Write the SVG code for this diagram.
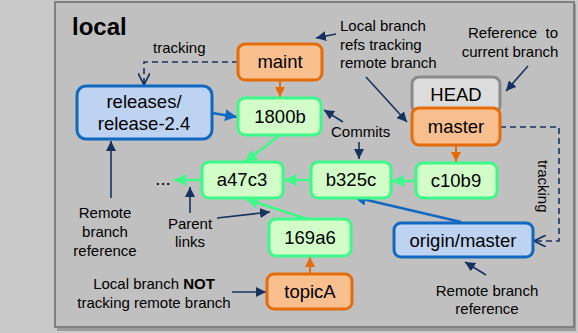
<svg xmlns="http://www.w3.org/2000/svg" width="578" height="333" viewBox="0 0 578 333">
<defs>
<style>
text{font-family:"Liberation Sans",Arial,sans-serif;fill:#000}
.n{font-size:18.5px;text-anchor:middle}
.a{font-size:15px}
.c{text-anchor:middle}
.green rect{fill:#d2fcc8;stroke:#3dfa88;stroke-width:3}
.orange rect{fill:#f9bf8f;stroke:#e46c0a;stroke-width:3}
.blue rect{fill:#bed3f1;stroke:#1068c0;stroke-width:3}
.gray rect{fill:#dcdcdc;stroke:#8a8a8a;stroke-width:3}
.lg{stroke:#3dfa88;stroke-width:2.5;fill:none;marker-end:url(#mg)}
.lo{stroke:#e46c0a;stroke-width:2;fill:none;marker-end:url(#mo)}
.lb{stroke:#1068c0;stroke-width:2.5;fill:none;marker-end:url(#mb)}
.ln{stroke:#17325e;stroke-width:1.6;fill:none;marker-end:url(#mn)}
.ld{stroke:#17325e;stroke-width:1.6;fill:none;stroke-dasharray:6 4;marker-end:url(#mv)}
</style>
<marker id="mg" markerUnits="userSpaceOnUse" markerWidth="12" markerHeight="12" refX="10" refY="5" orient="auto" viewBox="0 0 10 10"><path d="M0,0 L10,5 L0,10 Z" fill="#3dfa88"/></marker>
<marker id="mo" markerUnits="userSpaceOnUse" markerWidth="10" markerHeight="10" refX="10" refY="5" orient="auto" viewBox="0 0 10 10"><path d="M0,0 L10,5 L0,10 Z" fill="#e46c0a"/></marker>
<marker id="mb" markerUnits="userSpaceOnUse" markerWidth="12" markerHeight="12" refX="10" refY="5" orient="auto" viewBox="0 0 10 10"><path d="M0,0 L10,5 L0,10 Z" fill="#1068c0"/></marker>
<marker id="mn" markerUnits="userSpaceOnUse" markerWidth="10" markerHeight="10" refX="10" refY="5" orient="auto" viewBox="0 0 10 10"><path d="M0,0 L10,5 L0,10 Z" fill="#17325e"/></marker>
<marker id="mv" markerUnits="userSpaceOnUse" markerWidth="12" markerHeight="12" refX="10" refY="5" orient="auto" viewBox="0 0 10 10"><path d="M0,0 L10,5 L0,10" fill="none" stroke="#17325e" stroke-width="1.4"/></marker>
</defs>
<rect x="0" y="0" width="578" height="333" fill="#c9c9c9"/>
<rect x="57" y="4" width="519" height="327" fill="#9c9c9c"/>
<rect x="55" y="2" width="519" height="325" fill="#c0c0c0" stroke="#7f7f7f" stroke-width="2"/>
<text x="72" y="35" style="font-size:24px;font-weight:bold">local</text>

<g id="connectors">
<path class="ld" d="M238,62 H144 V85"/>
<path class="ld" d="M500,127 H559 V241 H534"/>
<line class="lo" x1="280" y1="80" x2="280" y2="97"/>
<line class="lo" x1="456" y1="145" x2="456" y2="162"/>
<line class="lo" x1="310" y1="274" x2="310" y2="257"/>
<line class="lb" x1="212" y1="113" x2="237" y2="117"/>
<line class="lb" x1="461" y1="222" x2="354" y2="197"/>
<line class="lg" x1="280" y1="135" x2="245" y2="162"/>
<line class="lg" x1="416" y1="181" x2="392" y2="181"/>
<line class="lg" x1="311" y1="180" x2="284" y2="180"/>
<line class="lg" x1="202" y1="180" x2="174" y2="180"/>
<line class="lg" x1="307" y1="219" x2="246" y2="199"/>
<line class="ln" x1="336" y1="34" x2="316" y2="38"/>
<line class="ln" x1="366" y1="77" x2="407" y2="122"/>
<line class="ln" x1="528" y1="66" x2="506" y2="91"/>
<line class="ln" x1="343" y1="122" x2="324" y2="110"/>
<line class="ln" x1="359" y1="142" x2="359" y2="159"/>
<line class="ln" x1="111" y1="198" x2="111" y2="141"/>
<line class="ln" x1="190" y1="213" x2="190" y2="187"/>
<line class="ln" x1="217" y1="218" x2="270" y2="212"/>
<line class="ln" x1="232" y1="292" x2="266" y2="292"/>
<line class="ln" x1="486" y1="275" x2="465" y2="262"/>
</g>

<g id="releases" class="blue"><rect x="77" y="86" width="135" height="53" rx="9"/><text class="n" x="144" y="108">releases/</text><text class="n" x="144" y="130">release-2.4</text></g>
<g id="maint" class="orange"><rect x="238" y="44" width="84" height="36" rx="7"/><text class="n" x="280" y="68">maint</text></g>
<g id="c1800b" class="green"><rect x="238" y="98" width="83" height="37" rx="7"/><text class="n" x="280" y="123">1800b</text></g>
<g id="a47c3" class="green"><rect x="202" y="162" width="81" height="36" rx="7"/><text class="n" x="242" y="186">a47c3</text></g>
<g id="b325c" class="green"><rect x="311" y="162" width="80" height="36" rx="7"/><text class="n" x="351" y="186">b325c</text></g>
<g id="c10b9" class="green"><rect x="416" y="163" width="81" height="35" rx="7"/><text class="n" x="456" y="187">c10b9</text></g>
<g id="c169a6" class="green"><rect x="269" y="219" width="82" height="37" rx="7"/><text class="n" x="310" y="244">169a6</text></g>
<g id="topicA" class="orange"><rect x="267" y="274" width="85" height="35" rx="7"/><text class="n" x="310" y="298">topicA</text></g>
<g id="HEAD" class="gray"><rect x="412" y="77" width="88" height="36" rx="7"/><text class="n" x="456" y="101">HEAD</text></g>
<g id="master" class="orange"><rect x="412" y="108" width="88" height="37" rx="7"/><text class="n" x="456" y="133">master</text></g>
<g id="origin-master" class="blue"><rect x="394" y="223" width="139" height="34" rx="7"/><text class="n" x="463" y="247">origin/master</text></g>
<text class="n" x="163" y="185">...</text>

<g id="labels">
<text class="a" x="153" y="53">tracking</text>
<text class="a" x="538" y="160" transform="rotate(90 538 160)">tracking</text>
<text class="a" x="340" y="31">Local branch</text>
<text class="a" x="340" y="50">refs tracking</text>
<text class="a" x="340" y="68">remote branch</text>
<text class="a c" x="513" y="38" xml:space="preserve" style="white-space:pre">Reference  to</text>
<text class="a c" x="510" y="57">current branch</text>
<text class="a" x="331" y="137">Commits</text>
<text class="a c" x="105" y="218">Remote</text>
<text class="a c" x="105" y="237">branch</text>
<text class="a c" x="105" y="256">reference</text>
<text class="a c" x="190" y="229">Parent</text>
<text class="a c" x="190" y="247">links</text>
<text class="a c" x="154" y="289">Local branch <tspan style="font-weight:bold">NOT</tspan></text>
<text class="a c" x="154" y="308">tracking remote branch</text>
<text class="a c" x="487" y="296">Remote branch</text>
<text class="a c" x="487" y="314">reference</text>
</g>
</svg>
